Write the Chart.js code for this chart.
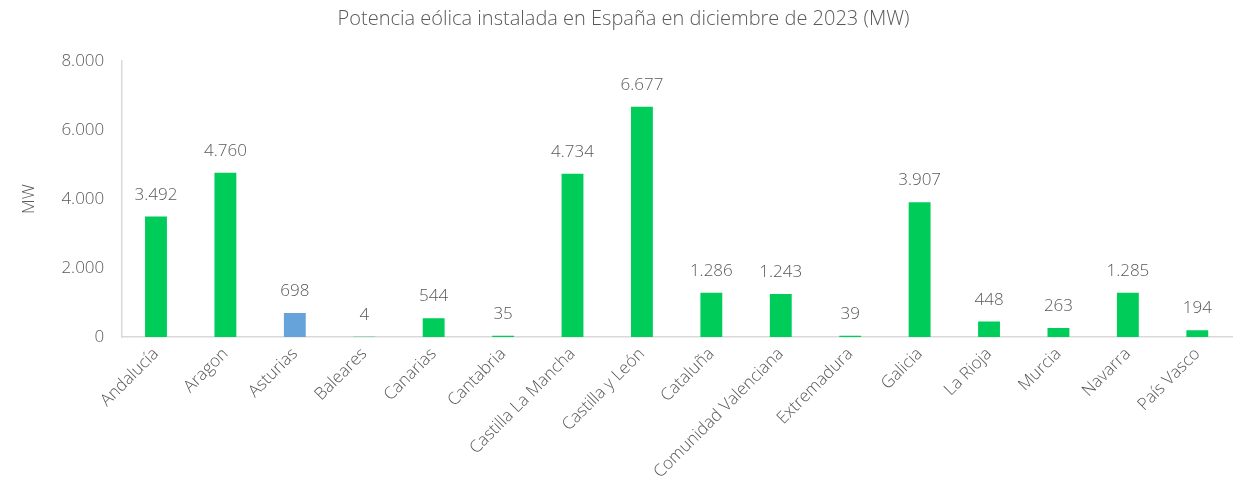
<!DOCTYPE html>
<html>
<head>
<meta charset="utf-8">
<script src="https://cdn.jsdelivr.net/npm/chart.js@4"></script>
<style>
  html, body { margin: 0; padding: 0; background: #fff; }
  #wrap { width: 1240px; height: 482px; }
</style>
</head>
<body>
<div id="wrap"><canvas id="chart" width="1240" height="482"></canvas></div>
<script>
const regiones = ["Andalucía", "Aragon", "Asturias", "Baleares", "Canarias", "Cantabria",
  "Castilla La Mancha", "Castilla y León", "Cataluña", "Comunidad Valenciana", "Extremadura",
  "Galicia", "La Rioja", "Murcia", "Navarra", "País Vasco"];
const potenciaMW = [3492, 4760, 698, 4, 544, 35, 4734, 6677, 1286, 1243, 39, 3907, 448, 263, 1285, 194];
const yTicks = [0, 2000, 4000, 6000, 8000];

const verde = "#00CC5A";
const azul = "#65A3DA";
const barColors = regiones.map(r => r === "Asturias" ? azul : verde);

const FONT = "'Open Sans', 'Segoe UI', sans-serif";
const GRIS = "#595959";

// 4760 -> "4.760"
function miles(v) {
  return String(v).replace(/\B(?=(\d{3})+(?!\d))/g, ".");
}

// etiquetas encima de cada barra
const etiquetas = {
  id: "etiquetas",
  afterDatasetsDraw(chart) {
    const ctx = chart.ctx;
    const meta = chart.getDatasetMeta(0);
    ctx.save();
    ctx.font = "300 17px " + FONT;
    ctx.fillStyle = GRIS;
    ctx.textAlign = "center";
    ctx.textBaseline = "alphabetic";
    meta.data.forEach((bar, i) => {
      ctx.fillText(miles(potenciaMW[i]), bar.x, bar.y - 17);
    });
    ctx.restore();
  }
};

new Chart(document.getElementById("chart"), {
  type: "bar",
  data: {
    labels: regiones,
    datasets: [{
      data: potenciaMW,
      backgroundColor: barColors,
      borderWidth: 0,
      barPercentage: 0.63,
      categoryPercentage: 0.5
    }]
  },
  options: {
    responsive: false,
    animation: false,
    devicePixelRatio: 1,
    layout: { padding: { left: 15, right: 8, top: 0, bottom: 0 } },
    plugins: {
      legend: { display: false },
      tooltip: { enabled: false },
      title: {
        display: true,
        text: "Potencia eólica instalada en España en diciembre de 2023 (MW)",
        color: GRIS,
        font: { family: FONT, size: 20, weight: 300 },
        padding: { top: 7, bottom: 30 }
      }
    },
    scales: {
      x: {
        grid: { display: false, drawTicks: false },
        border: { display: true, color: "#D9D9D9", width: 1.5 },
        afterFit: s => { s.height = 145; },
        ticks: {
          color: GRIS,
          font: { family: FONT, size: 17, weight: 300 },
          minRotation: 45,
          maxRotation: 45,
          padding: 7,
          autoSkip: false
        }
      },
      y: {
        min: 0,
        max: 8000,
        afterBuildTicks: axis => { axis.ticks = yTicks.map(v => ({ value: v })); },
        grid: { display: false, drawTicks: false },
        border: { display: true, color: "#D9D9D9", width: 1.5 },
        ticks: {
          color: GRIS,
          font: { family: FONT, size: 17, weight: 300 },
          padding: 17,
          callback: v => miles(v)
        },
        title: {
          display: true,
          text: "MW",
          color: GRIS,
          font: { family: FONT, size: 17, weight: 300 },
          padding: { bottom: 5 }
        }
      }
    }
  },
  plugins: [etiquetas]
});
</script>
</body>
</html>
